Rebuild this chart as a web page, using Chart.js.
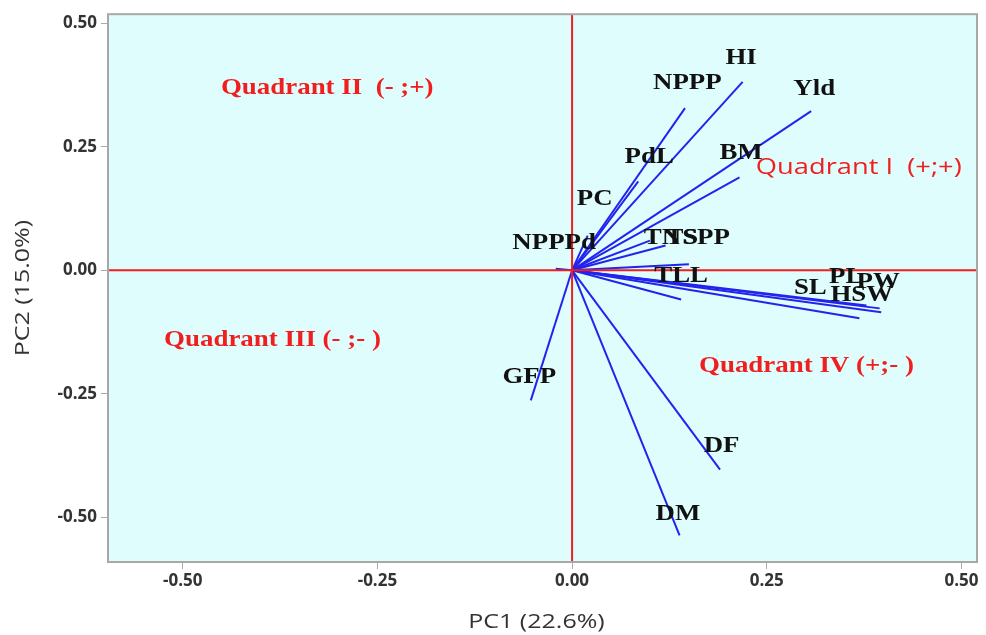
<!DOCTYPE html>
<html>
<head>
<meta charset="utf-8">
<script src="https://cdn.jsdelivr.net/npm/chart.js@4.4.1/dist/chart.umd.min.js"></script>
<style>
  html, body { margin:0; padding:0; background:#fff; }
  #wrap { width:986px; height:635px; }
</style>
</head>
<body>
<div id="wrap"><canvas id="biplot" width="986" height="635"></canvas></div>
<script>
/* ===== dados ===== */
const traits   = ['HI','NPPP','Yld','PdL','BM','PC','NPPPd','TN','TS','SPP','TLL','SL','PL','PW','HSW','GFP','DF','DM'];
const pc1      = [0.219, 0.145, 0.307, 0.085, 0.215, 0.020, -0.021, 0.100, 0.120, 0.150, 0.140, 0.369, 0.378, 0.395, 0.397, -0.053, 0.190, 0.138];
const pc2      = [0.381, 0.328, 0.322, 0.180, 0.188, 0.070, 0.003, 0.060, 0.050, 0.012, -0.059, -0.097, -0.071, -0.077, -0.085, -0.263, -0.403, -0.536];
// onde o nome de cada variavel aparece (coordenadas PC1/PC2)
const labelPc1 = [0.217, 0.148, 0.311, 0.099, 0.217, 0.029, -0.023, 0.116, 0.141, 0.172, 0.140, 0.306, 0.352, 0.393, 0.372, -0.055, 0.192, 0.136];
const labelPc2 = [0.429, 0.379, 0.368, 0.229, 0.237, 0.144, 0.055, 0.065, 0.065, 0.065, -0.012, -0.036, -0.014, -0.024, -0.050, -0.215, -0.354, -0.492];

const quadrants  = ['Quadrant II  (- ;+)', 'Quadrant I  (+;+)', 'Quadrant III (- ;- )', 'Quadrant IV (+;- )'];
const quadPc1    = [-0.451, 0.236, -0.524, 0.163];
const quadPc2    = [0.368, 0.208, -0.142, -0.194];

const xTicks = [-0.50, -0.25, 0.00, 0.25, 0.50];
const yTicks = [-0.50, -0.25, 0.00, 0.25, 0.50];
const xTitle = 'PC1 (22.6%)';
const yTitle = 'PC2 (15.0%)';

/* ===== estilos ===== */
const BLUE = '#2323ee';
const RED = '#f01e1e';
const AXIS_TXT = '#333';
const SERIF = '"Liberation Serif", "DejaVu Serif", serif';
const SANS = '"Open Sans", "Noto Sans", sans-serif';

// texto esticado na horizontal (a figura original e meio "larga")
function drawWide(ctx, text, px, py, sx, align) {
  ctx.save();
  ctx.translate(px, py);
  ctx.scale(sx, 1);
  ctx.textAlign = align;
  ctx.fillText(text, 0, 0);
  ctx.restore();
}

/* ===== plugin: fundo, eixos vermelhos, borda e textos ===== */
const biplotDecor = {
  id: 'biplotDecor',
  beforeDatasetsDraw(chart) {
    const { ctx, chartArea: a } = chart;
    ctx.save();
    ctx.fillStyle = '#e0fdfd';
    ctx.fillRect(a.left, a.top, a.right - a.left, a.bottom - a.top);
    ctx.restore();
  },
  afterDatasetsDraw(chart) {
    const { ctx, chartArea: a, scales: { x, y } } = chart;
    const x0 = x.getPixelForValue(0), y0 = y.getPixelForValue(0);
    ctx.save();
    // linhas de referencia
    ctx.strokeStyle = RED;
    ctx.lineWidth = 2;
    ctx.beginPath();
    ctx.moveTo(x0, a.top); ctx.lineTo(x0, a.bottom);
    ctx.moveTo(a.left, y0); ctx.lineTo(a.right, y0);
    ctx.stroke();
    // borda
    ctx.strokeStyle = '#a8a8a8';
    ctx.lineWidth = 2;
    ctx.strokeRect(a.left, a.top, a.right - a.left, a.bottom - a.top);

    ctx.textBaseline = 'middle';

    // nomes das variaveis
    ctx.fillStyle = '#111';
    ctx.font = 'bold 24px ' + SERIF;
    traits.forEach((t, i) => {
      drawWide(ctx, t, x.getPixelForValue(labelPc1[i]), y.getPixelForValue(labelPc2[i]), 1.12, 'center');
    });

    // quadrantes
    ctx.fillStyle = RED;
    quadrants.forEach((q, i) => {
      ctx.font = (i === 1) ? '22px ' + SANS : 'bold 23px ' + SERIF;
      const sx = (i === 1) ? 1.24 : 1.17;
      drawWide(ctx, q, x.getPixelForValue(quadPc1[i]), y.getPixelForValue(quadPc2[i]), sx, 'left');
    });

    // titulos dos eixos
    ctx.fillStyle = AXIS_TXT;
    ctx.font = '20px ' + SANS;
    drawWide(ctx, xTitle, (a.left + a.right) / 2 - 6, 622, 1.25, 'center');
    ctx.translate(23, (a.top + a.bottom) / 2);
    ctx.rotate(-Math.PI / 2);
    drawWide(ctx, yTitle, 0, 0, 1.25, 'center');
    ctx.restore();
  }
};

/* ===== datasets: um vetor por variavel ===== */
const datasets = traits.map((t, i) => ({
  label: t,
  data: [{ x: 0, y: 0 }, { x: pc1[i], y: pc2[i] }],
  showLine: true,
  borderColor: BLUE,
  borderWidth: 2,
  pointRadius: 0,
  fill: false
}));

const fmt = v => v.toFixed(2);

new Chart(document.getElementById('biplot').getContext('2d'), {
  type: 'scatter',
  data: { datasets },
  options: {
    responsive: false,
    devicePixelRatio: 1,
    animation: false,
    layout: { padding: { left: 8, top: 14, right: 9, bottom: 3 } },
    plugins: { legend: { display: false }, tooltip: { enabled: false } },
    scales: {
      x: {
        type: 'linear', min: -0.596, max: 0.52,
        afterBuildTicks: s => { s.ticks = xTicks.map(v => ({ value: v })); },
        afterFit: s => { s.height = 70; },
        ticks: { callback: fmt, color: AXIS_TXT, font: { size: 17, weight: 'bold', family: SANS }, padding: 2, maxRotation: 0 },
        grid: { drawOnChartArea: false, tickLength: 7, color: '#aaa' },
        border: { display: false }
      },
      y: {
        type: 'linear', min: -0.59, max: 0.518,
        afterBuildTicks: s => { s.ticks = yTicks.map(v => ({ value: v })); },
        afterFit: s => { s.width = 100; },
        ticks: { callback: fmt, color: AXIS_TXT, font: { size: 17, weight: 'bold', family: SANS }, padding: 4 },
        grid: { drawOnChartArea: false, tickLength: 7, color: '#aaa' },
        border: { display: false }
      }
    }
  },
  plugins: [biplotDecor]
});
</script>
</body>
</html>
